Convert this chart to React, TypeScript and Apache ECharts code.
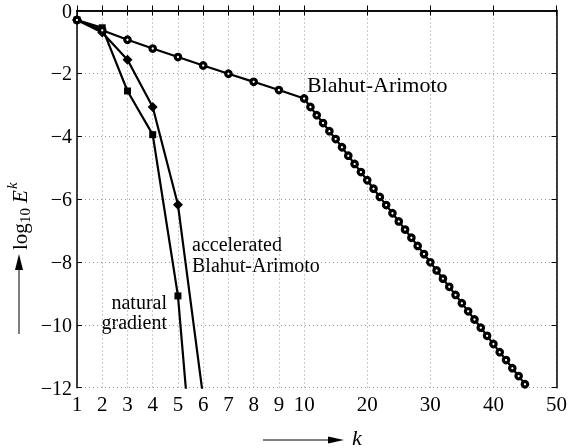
import React, { useEffect, useRef } from "react";
import * as echarts from "echarts";

// Iteration numbers
const kBA: number[] = [
  1, 2, 3, 4, 5, 6, 7, 8, 9, 10, 11, 12, 13, 14, 15, 16, 17, 18, 19, 20, 21, 22, 23,
  24, 25, 26, 27, 28, 29, 30, 31, 32, 33, 34, 35, 36, 37, 38, 39, 40, 41, 42, 43, 44, 45,
];
// Blahut-Arimoto: log10 E^k
const blahutArimoto: number[] = [
  -0.3, -0.63, -0.93, -1.21, -1.48, -1.75, -2.01, -2.27, -2.53, -2.8, -3.07, -3.33, -3.58,
  -3.84, -4.09, -4.35, -4.62, -4.88, -5.14, -5.4, -5.67, -5.93, -6.19, -6.45, -6.71, -6.97,
  -7.23, -7.49, -7.75, -8.01, -8.27, -8.53, -8.79, -9.05, -9.31, -9.57, -9.83, -10.09,
  -10.35, -10.61, -10.87, -11.12, -11.38, -11.63, -11.89,
];
const kShort: number[] = [1, 2, 3, 4, 5, 6];
const acceleratedBA: number[] = [-0.3, -0.7, -1.57, -3.07, -6.18, -12.31];
const naturalGradient: number[] = [-0.3, -0.55, -2.56, -3.95, -9.08, -18.5];

// Axis ticks
const xTickK: number[] = [1, 2, 3, 4, 5, 6, 7, 8, 9, 10, 20, 30, 40, 50];

// piecewise axis: 1..10 linear, 10..50 compressed by factor 4
const toAxis = (k: number) => (k <= 10 ? k : 10 + (k - 10) / 4);
const fromAxis = (t: number) => (t <= 10 ? t : 10 + (t - 10) * 4);
const xTickT = xTickK.map(toAxis);

const FONT = "Liberation Serif";

export default function App() {
  const ref = useRef<HTMLDivElement>(null);
  useEffect(() => {
    if (!ref.current) return;
    const chart = echarts.init(ref.current, undefined, { renderer: "svg" });
    const lineStyle = { color: "#000", width: 2.2 };
    const mk = (ks: number[], vs: number[]) => ks.map((k, i) => [toAxis(k), vs[i]]);
    const xCommon = {
      type: "value",
      min: 1,
      max: 20,
      axisLine: { show: true, lineStyle: { color: "#000", width: 1.5 } },
      axisTick: { show: true, inside: true, length: 5, customValues: xTickT, lineStyle: { color: "#000", width: 1 } },
    };
    const yCommon = {
      type: "value",
      min: -12,
      max: 0,
      interval: 2,
      axisLine: { show: true, lineStyle: { color: "#000", width: 1.5 } },
      axisTick: { show: true, inside: true, length: 5, lineStyle: { color: "#000", width: 1 } },
    };
    chart.setOption({
      animation: false,
      grid: { left: 77, right: 11.5, top: 10.5, bottom: 60.3, containLabel: false, outerBoundsMode: "none" },
      xAxis: [
        {
          ...xCommon,
          position: "bottom",
          axisLabel: {
            show: true,
            customValues: xTickT,
            formatter: (v: number) => String(Math.round(fromAxis(v))),
            fontFamily: FONT,
            fontSize: 21,
            lineHeight: 16,
            color: "#000",
            margin: 8,
          },
          splitLine: { show: true, lineStyle: { color: "#999", width: 1, type: [1, 3] } },
        },
        {
          ...xCommon,
          position: "top",
          axisLabel: { show: false },
          splitLine: { show: false },
        },
      ],
      yAxis: [
        {
          ...yCommon,
          position: "left",
          axisLabel: {
            show: true,
            formatter: (v: number) => (v === 0 ? "0" : "\u2212" + Math.abs(v)),
            fontFamily: FONT,
            fontSize: 20,
            lineHeight: 15,
            color: "#000",
            margin: 5,
          },
          splitLine: { show: true, lineStyle: { color: "#999", width: 1, type: [1, 3] } },
        },
        {
          ...yCommon,
          position: "right",
          axisLabel: { show: false },
          splitLine: { show: false },
        },
      ],
      series: [
        {
          name: "natural gradient",
          type: "line",
          data: mk(kShort, naturalGradient),
          clip: true,
          lineStyle,
          symbol: "rect",
          symbolSize: 7,
          itemStyle: { color: "#000" },
          xAxisIndex: 0,
          yAxisIndex: 0,
        },
        {
          name: "accelerated Blahut-Arimoto",
          type: "line",
          data: mk(kShort, acceleratedBA),
          clip: true,
          lineStyle,
          symbol: "diamond",
          symbolSize: 10,
          itemStyle: { color: "#000" },
          xAxisIndex: 0,
          yAxisIndex: 0,
        },
        {
          name: "Blahut-Arimoto",
          type: "line",
          data: mk(kBA, blahutArimoto),
          clip: true,
          lineStyle,
          symbol: "circle",
          symbolSize: 5.5,
          itemStyle: { color: "#fff", borderColor: "#000", borderWidth: 3.2 },
          xAxisIndex: 0,
          yAxisIndex: 0,
        },
      ],
      graphic: [
        { type: "text", x: 307, y: 84, style: { text: "Blahut-Arimoto", font: `22px "${FONT}"`, fill: "#000", verticalAlign: "middle" } },
        {
          type: "text",
          x: 192,
          y: 254,
          style: { text: "accelerated\nBlahut-Arimoto", font: `20px "${FONT}"`, lineHeight: 21, fill: "#000", verticalAlign: "middle" },
        },
        {
          type: "text",
          x: 167,
          y: 311.5,
          style: { text: "natural\ngradient", font: `20px "${FONT}"`, lineHeight: 20, fill: "#000", align: "right", verticalAlign: "middle" },
        },
        // y-axis title arrow
        { type: "line", shape: { x1: 19, y1: 334, x2: 19, y2: 266 }, style: { stroke: "#000", lineWidth: 1 } },
        { type: "polygon", shape: { points: [[19, 254], [15, 270], [23, 270]] }, style: { fill: "#000" } },
        {
          type: "group",
          x: 20,
          y: 250,
          rotation: Math.PI / 2,
          children: [
            { type: "text", x: 0, y: 0, style: { text: "log", font: `21px "${FONT}"`, fill: "#000", verticalAlign: "middle" } },
            { type: "text", x: 27, y: 5, style: { text: "10", font: `15px "${FONT}"`, fill: "#000", verticalAlign: "middle" } },
            { type: "text", x: 47, y: 0, style: { text: "E", font: `italic 21px "${FONT}"`, fill: "#000", verticalAlign: "middle" } },
            { type: "text", x: 61, y: -8, style: { text: "k", font: `italic 15px "${FONT}"`, fill: "#000", verticalAlign: "middle" } },
          ],
        },
        // x-axis title arrow
        { type: "line", shape: { x1: 263, y1: 440, x2: 330, y2: 440 }, style: { stroke: "#000", lineWidth: 1 } },
        { type: "polygon", shape: { points: [[344, 440], [328, 436.5], [328, 443.5]] }, style: { fill: "#000" } },
        { type: "text", x: 352, y: 437, style: { text: "k", font: `italic 22px "${FONT}"`, fill: "#000", verticalAlign: "middle" } },
      ],
    });
    return () => chart.dispose();
  }, []);
  return <div ref={ref} style={{ position: "fixed", left: 0, top: 0, width: 568, height: 448 }} />;
}
